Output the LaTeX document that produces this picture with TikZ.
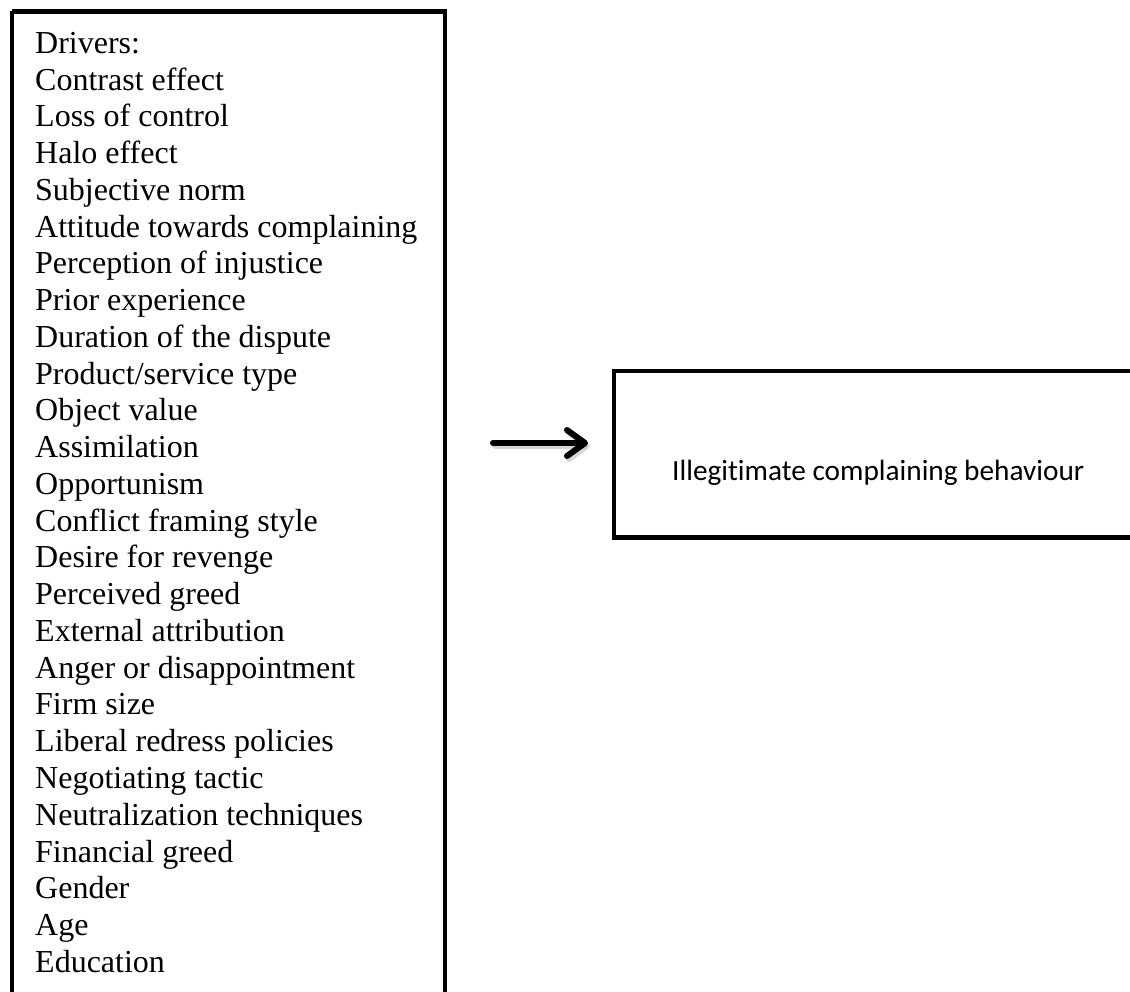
\documentclass[tikz,border=0pt]{standalone}
\usepackage{fontspec}
\setmainfont{Liberation Serif}
\newfontfamily\calibri{Carlito}[Ligatures=NoCommon]
\usetikzlibrary{arrows.meta}
\tikzset{
  frame/.style={draw=black, line width=4.3pt},
  driver/.style={anchor=base west, inner sep=0pt, font=\fontsize{32}{36.76}\selectfont},
  outcome/.style={anchor=base west, inner sep=0pt, font=\calibri\fontsize{29.3}{35}\selectfont},
  linkarrow/.style={line width=6pt, line cap=round, line join=round, -{Straight Barb[length=18pt,width=26pt,round]}},
  shadowarrow/.style={linkarrow, draw=black!35, opacity=0.45}
}
\begin{document}
\begin{tikzpicture}[x=1pt,y=-1pt]
  \useasboundingbox (0,0) rectangle (1130,992);
  \clip (0,0) rectangle (1130,992);
  \fill[white] (0,0) rectangle (1130,992);
  % left box
  \draw[frame] (12,11.5) coordinate (lb-nw) -- (445,11.5) coordinate (lb-ne) -- (445,1010) (12,11.5) -- (12,1010);
  \foreach [count=\i from 0] \t in {Drivers:,Contrast effect,Loss of control,Halo effect,Subjective norm,Attitude towards complaining,Perception of injustice,Prior experience,Duration of the dispute,Product/service type,Object value,Assimilation,Opportunism,Conflict framing style,Desire for revenge,Perceived greed,External attribution,Anger or disappointment,Firm size,Liberal redress policies,Negotiating tactic,Neutralization techniques,Financial greed,Gender,Age,Education}
    \node[driver] (d\i) at (35,{53.3+36.76*\i}) {\t};
  % right box
  \draw[frame] (1150,371) -- (614,371) -- (614,537.5) -- (1150,537.5);
  \node[outcome] (outcome) at (672,480) {Illegitimate complaining behaviour};
  % arrow
  \coordinate (as) at (493,443);
  \coordinate (ae) at (588,443);
  \coordinate (ass) at (495,446);
  \coordinate (aes) at (590,446);
  \draw[shadowarrow] (ass) -- (aes);
  \draw[linkarrow] (as) -- (ae);
\end{tikzpicture}
\end{document}
